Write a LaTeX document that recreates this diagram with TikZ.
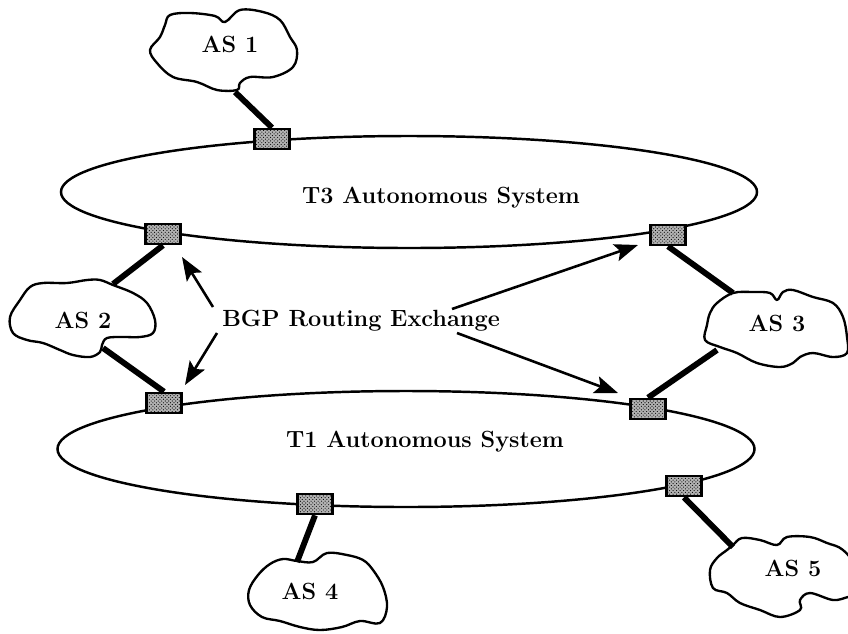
\documentclass[tikz,border=0pt]{standalone}
\usetikzlibrary{positioning, shapes.geometric, arrows.meta, patterns}

\begin{document}
\begin{tikzpicture}[x=0.03cm, y=-0.03cm,
					every node/.style={font=\fontsize{20}{24}\selectfont\bfseries},
					router/.style={draw, line width=2.3pt, minimum width=1.05cm, minimum height=0.6cm, inner sep=0pt, preaction={fill=black!30}, pattern=crosshatch dots},
					ring/.style={draw, ellipse, line width=2.1pt, inner sep=0pt},
					cloudline/.style={line width=2pt, line join=round},
					link/.style={draw, line width=5pt},
					exchange/.style={draw, ->, line width=2.2pt},
					>={Stealth[length=20pt,width=15pt,inset=4pt]}]
	\useasboundingbox (0,0) rectangle (848,633);

	% the two transit systems
	\node[ring, minimum width=20.88cm, minimum height=3.36cm] (t3) at (409,192) {};
	\node[ring, minimum width=20.91cm, minimum height=3.48cm] (t1) at (406,449) {};
	\node (t3label) at (441,198) {T3 Autonomous System};
	\node (t1label) at (425,442) {T1 Autonomous System};

	% border routers
	\node[router] (r1) at (272,139) {};
	\node[router] (r2t) at (163,234) {};
	\node[router] (r2b) at (164,403) {};
	\node[router] (r3t) at (668,235) {};
	\node[router] (r3b) at (648,409) {};
	\node[router] (r4) at (315,504) {};
	\node[router] (r5) at (684,486) {};

	% stub systems
	\draw[cloudline] plot[smooth cycle, tension=0.6] coordinates {(170,15) (190,13) (215,16) (225,22) (240,10) (263,12) (280,20) (290,37) (297,50) (293,67) (273,77) (250,77) (240,83) (237,90) (217,90) (197,82) (173,77) (157,63) (150,50) (160,37) (165,25)};
	\node (as1) at (230,44) {AS 1};
	\draw[cloudline] plot[smooth cycle, tension=0.6] coordinates {(10,317) (20,300) (30,287) (43,283) (67,283) (87,280) (100,280) (113,285) (133,293) (147,303) (155,320) (153,333) (140,337) (123,337) (107,338) (102,345) (100,352) (90,357) (73,355) (60,350) (43,343) (27,340) (13,333)};
	\node (as2) at (83,320) {AS 2};
	\draw[cloudline] plot[smooth cycle, tension=0.6] coordinates {(707,325) (710,313) (717,303) (733,293) (753,292) (770,293) (777,300) (783,292) (793,290) (813,297) (833,303) (843,317) (847,337) (847,353) (833,357) (813,353) (800,357) (793,363) (780,367) (757,363) (737,353) (720,347) (705,340)};
	\node (as3) at (777,323) {AS 3};
	\draw[cloudline] plot[smooth cycle, tension=0.6] coordinates {(258,575) (270,564) (283,559) (297,561) (313,562) (327,553) (347,555) (363,560) (373,570) (383,587) (387,607) (380,623) (360,621) (342,627) (320,630) (300,627) (280,621) (262,617) (250,605) (249,590)};
	\node (as4) at (310,591) {AS 4};
	\draw[cloudline] plot[smooth cycle, tension=0.6] coordinates {(733,545) (742,538) (760,540) (777,545) (787,537) (810,537) (827,543) (843,550) (858,570) (858,595) (848,597) (833,600) (810,593) (800,600) (800,610) (780,617) (760,610) (740,603) (727,593) (713,588) (710,570) (717,558) (727,550)};
	\node (as5) at (793,568) {AS 5};

	% access links
	\coordinate (as1-r) at (235,92);
	\coordinate (as2-t) at (113,284);
	\coordinate (as2-b) at (103,348);
	\coordinate (as3-t) at (733,293);
	\coordinate (as3-b) at (717,350);
	\coordinate (as4-t) at (297,562);
	\coordinate (as5-t) at (733,547);
	\draw[link] (as1-r) -- (r1.north);
	\draw[link] (as2-t) -- (r2t.south);
	\draw[link] (as2-b) -- (r2b.north);
	\draw[link] (as3-t) -- (r3t.south);
	\draw[link] (as3-b) -- (r3b.north);
	\draw[link] (r4.south) -- (as4-t);
	\draw[link] (r5.south) -- (as5-t);

	% BGP sessions
	\node (bgp) at (361,321) {BGP Routing Exchange};
	\coordinate (bgp-w1) at (213,307);
	\coordinate (bgp-w2) at (217,333);
	\coordinate (bgp-e1) at (452,309);
	\coordinate (bgp-e2) at (457,333);
	\coordinate (tip-w1) at (182,257);
	\coordinate (tip-w2) at (185,385);
	\coordinate (tip-e1) at (638,245);
	\coordinate (tip-e2) at (618,393);
	\draw[exchange] (bgp-w1) -- (tip-w1);
	\draw[exchange] (bgp-w2) -- (tip-w2);
	\draw[exchange] (bgp-e1) -- (tip-e1);
	\draw[exchange] (bgp-e2) -- (tip-e2);
\end{tikzpicture}
\end{document}
